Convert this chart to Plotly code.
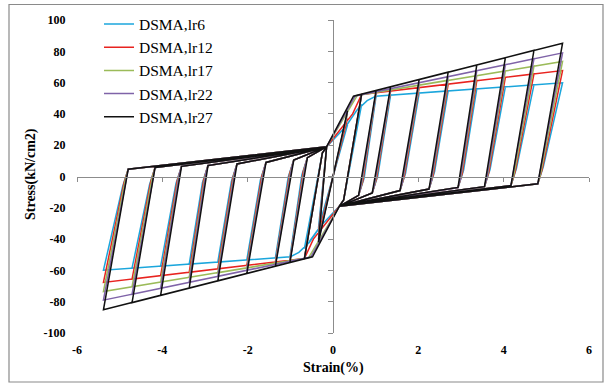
import plotly.graph_objects as go

# ---------------- data ----------------
series_names = ["DSMA,lr6", "DSMA,lr12", "DSMA,lr17", "DSMA,lr22", "DSMA,lr27"]
series_colors = ["#1BA6DC", "#E8231F", "#9BBB59", "#7F63A8", "#111111"]

# cycle amplitudes (strain %)
first_amp = 0.34
amplitudes = [0.67, 1.01, 1.35, 2.02, 2.70, 3.37, 4.04, 4.71, 5.38]

# first small cycle peak stress for each series
first_peak = [33, 37, 40, 41, 42]

# peak stress at each amplitude, per series (kN/cm2)
peak_lr6 = [46.0, 51.4, 52.0, 53.3, 54.7, 56.0, 57.3, 58.6, 59.9]
peak_lr12 = [52.4, 53.5, 54.6, 56.8, 59.0, 61.2, 63.4, 65.5, 67.7]
peak_lr17 = [52.2, 53.8, 55.4, 58.4, 61.5, 64.5, 67.5, 70.5, 73.5]
peak_lr22 = [52.2, 54.1, 56.0, 59.9, 63.7, 67.6, 71.4, 75.2, 79.0]
peak_lr27 = [52.6, 55.0, 57.3, 62.0, 66.7, 71.3, 75.9, 80.6, 85.2]

# end of unloading branch (corner near the strain axis) for each amplitude
corner_strain = [0.25, 0.60, 0.92, 1.57, 2.25, 2.93, 3.55, 4.17, 4.80]
corner_stress = [-15.0, -12.0, -10.5, -9.0, -8.0, -7.0, -6.5, -5.8, -4.7]

# rounded approach to the corner, per series (strain offset, stress offset)
round_dx = [0.13, 0.10, 0.07, 0.05, 0.0]
round_dy = [11.0, 9.0, 7.0, 5.0, 0.0]

# point where the reverse branches meet before re-yielding
meet_strain = 0.15
meet_stress = 19.0

# yield transition points per series (strain, stress)
knee_lr6_x = [0.30, 0.55, 0.80, 1.00]
knee_lr6_y = [32.0, 42.0, 48.5, 51.3]
knee_lr12_x = [0.46, 0.67]
knee_lr12_y = [40.0, 52.4]
knee_lr17_x = [0.57]
knee_lr17_y = [51.8]
knee_lr22_x = [0.52]
knee_lr22_y = [51.5]
knee_lr27_x = [0.48]
knee_lr27_y = [51.3]

peaks = [peak_lr6, peak_lr12, peak_lr17, peak_lr22, peak_lr27]
knees_x = [knee_lr6_x, knee_lr12_x, knee_lr17_x, knee_lr22_x, knee_lr27_x]
knees_y = [knee_lr6_y, knee_lr12_y, knee_lr17_y, knee_lr22_y, knee_lr27_y]

x_ticks = [-6, -4, -2, 0, 2, 4, 6]
x_labels = ["-6", "-4", "-2", "0", "2", "4", "6"]
y_ticks = [-100, -80, -60, -40, -20, 0, 20, 40, 60, 80, 100]
y_labels = ["-100", "-80", "-60", "-40", "-20", "0", "20", "40", "60", "80", "100"]


def build_path(i):
    xs = [0.0, first_amp, -first_amp, -meet_strain]
    ys = [0.0, first_peak[i], -first_peak[i], meet_stress]
    for k, a in enumerate(amplitudes):
        p = peaks[i][k]
        kx = [x for x in knees_x[i] if x < a]
        ky = [y for x, y in zip(knees_x[i], knees_y[i]) if x < a]
        rx = [corner_strain[k] + round_dx[i]] if round_dx[i] > 0 and k > 0 else []
        ry = [corner_stress[k] + round_dy[i]] if round_dx[i] > 0 and k > 0 else []
        # positive half
        xs += kx + [a] + rx + [corner_strain[k], meet_strain]
        ys += ky + [p] + ry + [corner_stress[k], -meet_stress]
        # negative half (mirror)
        xs += [-x for x in kx] + [-a] + [-x for x in rx] + [-corner_strain[k], -meet_strain]
        ys += [-y for y in ky] + [-p] + [-y for y in ry] + [-corner_stress[k], meet_stress]
    return xs, ys


fig = go.Figure()
for i, name in enumerate(series_names):
    xs, ys = build_path(i)
    fig.add_trace(go.Scatter(
        x=xs, y=ys, mode="lines", name=name,
        line=dict(color=series_colors[i], width=1.5),
    ))

# invisible trace for the axes crossing at zero
fig.add_trace(go.Scatter(x=[None], y=[None], xaxis="x2", yaxis="y2",
                         showlegend=False, hoverinfo="skip"))

W, H = 605, 385
ml, mr, mt, mb = 77, 16, 20, 52
pw, ph = W - ml - mr, H - mt - mb


def px_x(p):
    return (p - ml) / pw


def px_y(p):
    return (H - mb - p) / ph


tick_font = dict(family="Liberation Serif", size=12, color="#000000", weight="bold")
axis_gray = "#8C8C8C"

fig.update_layout(
    width=W, height=H,
    margin=dict(l=ml, r=mr, t=mt, b=mb, autoexpand=False),
    paper_bgcolor="white", plot_bgcolor="white",
    showlegend=True,
    legend=dict(
        xref="container", yref="container",
        x=99 / W, y=1 - 7.5 / H, xanchor="left", yanchor="top",
        font=dict(family="Liberation Serif", size=15.5, color="#000000"),
        bgcolor="rgba(0,0,0,0)", tracegroupgap=0,
    ),
    xaxis=dict(
        range=[-6, 6], tickvals=x_ticks, ticktext=x_labels, automargin=False,
        showgrid=False, zeroline=False, showline=False,
        ticks="outside", ticklen=6, tickcolor="rgba(0,0,0,0)",
        tickfont=tick_font,
    ),
    yaxis=dict(
        range=[-100, 100], tickvals=y_ticks, ticktext=y_labels, automargin=False,
        showgrid=False, zeroline=False, showline=False,
        ticks="outside", ticklen=8, tickcolor="rgba(0,0,0,0)",
        tickfont=tick_font,
    ),
    xaxis2=dict(
        range=[-6, 6], overlaying="x", anchor="free", position=0.5,
        side="bottom", tickvals=x_ticks, showticklabels=False, automargin=False,
        showgrid=False, zeroline=False, showline=True,
        linecolor=axis_gray, linewidth=1.3,
        ticks="outside", ticklen=4, tickcolor=axis_gray, tickwidth=1.3,
    ),
    yaxis2=dict(
        range=[-100, 100], overlaying="y", anchor="free", position=0.5,
        side="left", tickvals=y_ticks, showticklabels=False, automargin=False,
        showgrid=False, zeroline=False, showline=True,
        linecolor=axis_gray, linewidth=1.3,
        ticks="outside", ticklen=5, tickcolor=axis_gray, tickwidth=1.3,
    ),
    annotations=[
        dict(text="Strain(%)", x=0.5, y=px_y(368), xref="paper", yref="paper",
             showarrow=False, xanchor="center", yanchor="middle",
             font=dict(family="Liberation Serif", size=14, color="#000000", weight="bold")),
        dict(text="Stress(kN/cm2)", x=px_x(31), y=px_y(174), xref="paper", yref="paper",
             showarrow=False, xanchor="center", yanchor="middle", textangle=-90,
             font=dict(family="Liberation Serif", size=14, color="#000000", weight="bold")),
    ],
    shapes=[
        dict(type="rect", xref="paper", yref="paper",
             x0=px_x(9), x1=px_x(603), y0=px_y(382), y1=px_y(4.5),
             line=dict(color="#8A8A8A", width=1.2), fillcolor="rgba(0,0,0,0)", layer="below"),
    ],
)

fig.write_html("out.html")
